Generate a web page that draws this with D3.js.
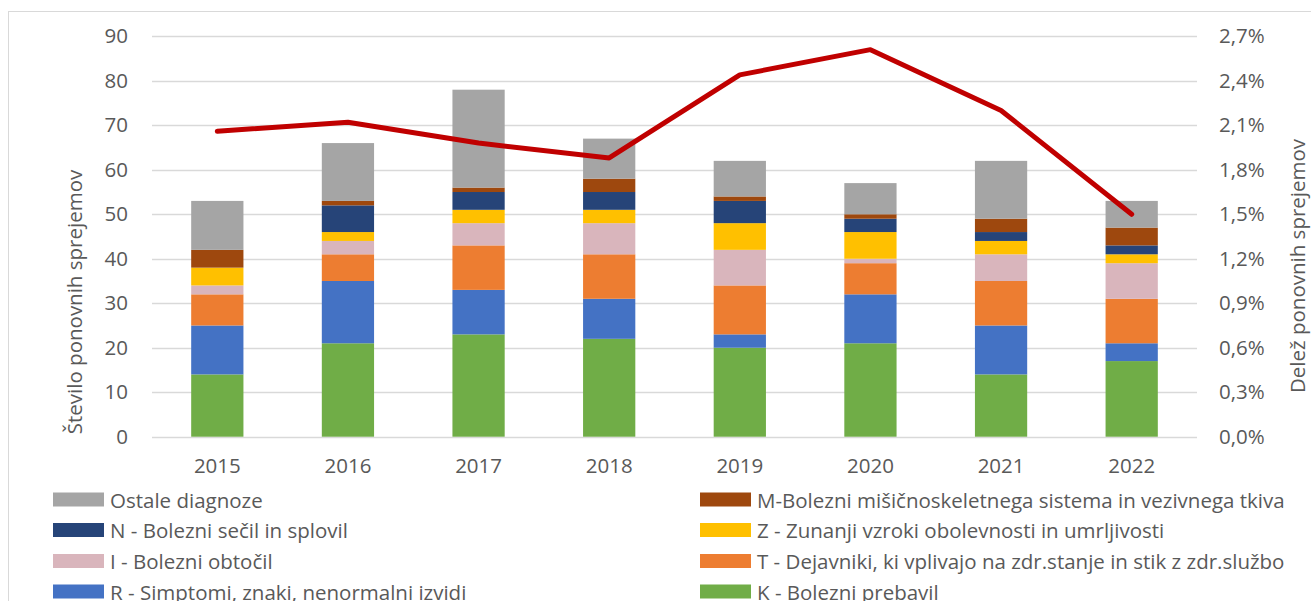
<!DOCTYPE html>
<html>
<head>
<meta charset="utf-8">
<script src="https://cdn.jsdelivr.net/npm/d3@7"></script>
<style>
  body { margin: 0; background: #fff; }
  text { font-family: "Open Sans", sans-serif; fill: #595959; }
</style>
</head>
<body>
<div id="chart"></div>
<script>
// data
var years = ["2015", "2016", "2017", "2018", "2019", "2020", "2021", "2022"];
var kPrebavil   = [14, 21, 23, 22, 20, 21, 14, 17];
var rSimptomi   = [11, 14, 10, 9, 3, 11, 11, 4];
var tDejavniki  = [7, 6, 10, 10, 11, 7, 10, 10];
var iObtocil    = [2, 3, 5, 7, 8, 1, 6, 8];
var zZunanji    = [4, 2, 3, 3, 6, 6, 3, 2];
var nSecil      = [0, 6, 4, 4, 5, 3, 2, 2];
var mMisicno    = [4, 1, 1, 3, 1, 1, 3, 4];
var ostale      = [11, 13, 22, 9, 8, 7, 13, 6];
var delez       = [2.06, 2.12, 1.98, 1.88, 2.44, 2.61, 2.20, 1.50];
var leftTicks   = [0, 10, 20, 30, 40, 50, 60, 70, 80, 90];
var rightTicks  = [0, 0.3, 0.6, 0.9, 1.2, 1.5, 1.8, 2.1, 2.4, 2.7];

// series, bottom of the stack first
var series = [
  { key: "K", name: "K - Bolezni prebavil", values: kPrebavil, color: "#70ad47" },
  { key: "R", name: "R - Simptomi, znaki, nenormalni izvidi", values: rSimptomi, color: "#4472c4" },
  { key: "T", name: "T - Dejavniki, ki vplivajo na zdr.stanje in stik z zdr.službo", values: tDejavniki, color: "#ed7d31" },
  { key: "I", name: "I - Bolezni obtočil", values: iObtocil, color: "#d9b5bc" },
  { key: "Z", name: "Z - Zunanji vzroki obolevnosti in umrljivosti", values: zZunanji, color: "#ffc000" },
  { key: "N", name: "N - Bolezni sečil in splovil", values: nSecil, color: "#264478" },
  { key: "M", name: "M-Bolezni mišičnoskeletnega sistema in vezivnega tkiva", values: mMisicno, color: "#9e480e" },
  { key: "O", name: "Ostale diagnoze", values: ostale, color: "#a5a5a5" }
];

// legend order (left column, right column)
var legendLeft = ["O", "N", "I", "R"];
var legendRight = ["M", "Z", "T", "K"];

var svgWidth = 1311;
var svgHeight = 601;

// plot area
var plot = { left: 152, right: 1197, top: 36.3, bottom: 436.7 };

var svg = d3.select("#chart")
  .append("svg")
  .attr("width", svgWidth)
  .attr("height", svgHeight);

// outer frame
svg.append("rect")
  .attr("x", 8.5)
  .attr("y", 11.5)
  .attr("width", 1320)
  .attr("height", 700)
  .attr("fill", "none")
  .attr("stroke", "#d9d9d9")
  .attr("stroke-width", 1);

// build table for stacking
var table = years.map(function(y, i) {
  var row = { year: y };
  series.forEach(function(s) { row[s.key] = s.values[i]; });
  return row;
});

var stack = d3.stack().keys(series.map(function(s) { return s.key; }));
var stacked = stack(table);

var xScale = d3.scaleBand()
  .domain(years)
  .range([plot.left, plot.right])
  .paddingInner(0.6)
  .paddingOuter(0.3);

var yLeft = d3.scaleLinear().domain([0, 90]).range([plot.bottom, plot.top]);
var yRight = d3.scaleLinear().domain([0, 2.7]).range([plot.bottom, plot.top]);

// gridlines
svg.append("g")
  .selectAll("line")
  .data(leftTicks)
  .enter()
  .append("line")
  .attr("x1", plot.left)
  .attr("x2", plot.right)
  .attr("y1", function(d) { return Math.round(yLeft(d)) + 0.5; })
  .attr("y2", function(d) { return Math.round(yLeft(d)) + 0.5; })
  .attr("stroke", "#d9d9d9")
  .attr("stroke-width", 1.3);

// stacked bars
var colorOf = {};
series.forEach(function(s) { colorOf[s.key] = s.color; });

var layers = svg.append("g")
  .selectAll("g")
  .data(stacked)
  .enter()
  .append("g")
  .attr("fill", function(d) { return colorOf[d.key]; });

layers.selectAll("rect")
  .data(function(d) { return d; })
  .enter()
  .append("rect")
  .attr("x", function(d) { return xScale(d.data.year); })
  .attr("width", xScale.bandwidth())
  .attr("y", function(d) { return yLeft(d[1]); })
  .attr("height", function(d) { return yLeft(d[0]) - yLeft(d[1]); });

// left axis
var leftAxis = d3.axisLeft(yLeft).tickValues(leftTicks).tickSize(0).tickPadding(0);
var gLeft = svg.append("g")
  .attr("transform", "translate(128,0)")
  .call(leftAxis);
gLeft.select(".domain").remove();
gLeft.selectAll("text")
  .attr("font-size", 20.5)
  .attr("font-family", "Open Sans")
  .attr("fill", "#595959");

// right axis
var fmtPct = function(d) { return d3.format(".1f")(d).replace(".", ",") + "%"; };
var rightAxis = d3.axisRight(yRight).tickValues(rightTicks).tickFormat(fmtPct).tickSize(0).tickPadding(0);
var gRight = svg.append("g")
  .attr("transform", "translate(1219,0)")
  .call(rightAxis);
gRight.select(".domain").remove();
gRight.selectAll("text")
  .attr("font-size", 20.5)
  .attr("font-family", "Open Sans")
  .attr("fill", "#595959");

// bottom axis
var bottomAxis = d3.axisBottom(xScale).tickSize(0).tickPadding(0);
var gBottom = svg.append("g")
  .attr("transform", "translate(0,458)")
  .call(bottomAxis);
gBottom.select(".domain").remove();
gBottom.selectAll("text")
  .attr("font-size", 20.5)
  .attr("font-family", "Open Sans")
  .attr("fill", "#595959");

// share line
var line = d3.line()
  .x(function(d, i) { return xScale(years[i]) + xScale.bandwidth() / 2; })
  .y(function(d) { return yRight(d); });

svg.append("path")
  .datum(delez)
  .attr("d", line)
  .attr("fill", "none")
  .attr("stroke", "#c00000")
  .attr("stroke-width", 5)
  .attr("stroke-linejoin", "round")
  .attr("stroke-linecap", "round");

// axis titles
svg.append("text")
  .attr("transform", "translate(74,302) rotate(-90)")
  .attr("text-anchor", "middle")
  .attr("dominant-baseline", "central")
  .attr("font-size", 20.5)
  .text("Število ponovnih sprejemov");

svg.append("text")
  .attr("transform", "translate(1297,266) rotate(-90)")
  .attr("text-anchor", "middle")
  .attr("dominant-baseline", "central")
  .attr("font-size", 20.5)
  .text("Delež ponovnih sprejemov");

// legend
var byKey = {};
series.forEach(function(s) { byKey[s.key] = s; });
var rowY = [499.5, 530, 561, 591.5];

function drawLegendColumn(keys, swatchX, textX) {
  var g = svg.append("g");
  var item = g.selectAll("g")
    .data(keys)
    .enter()
    .append("g")
    .attr("transform", function(d, i) { return "translate(0," + rowY[i] + ")"; });
  item.append("rect")
    .attr("x", swatchX)
    .attr("y", -7)
    .attr("width", 51)
    .attr("height", 14)
    .attr("fill", function(d) { return byKey[d].color; });
  item.append("text")
    .attr("x", textX)
    .attr("dominant-baseline", "central")
    .attr("font-size", 20.5)
    .text(function(d) { return byKey[d].name; });
}

drawLegendColumn(legendLeft, 53, 110);
drawLegendColumn(legendRight, 700, 757);
</script>
</body>
</html>
